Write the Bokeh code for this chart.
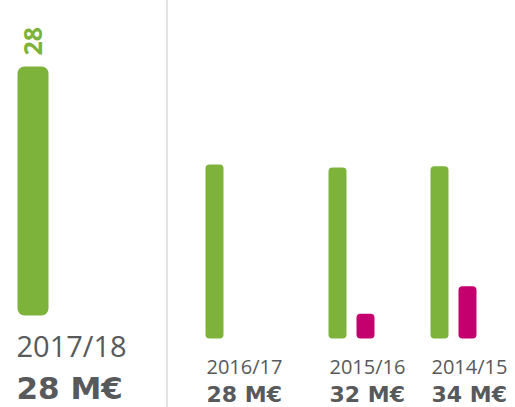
import math
from bokeh.plotting import figure
from bokeh.layouts import row
from bokeh.models import Range1d, Spacer, ColumnDataSource
from bokeh.core.properties import value
from bokeh.embed import file_html
from bokeh.resources import INLINE

# ---- data ----
years = ["2017/18", "2016/17", "2015/16", "2014/15"]
totals = ["28 M€", "28 M€", "32 M€", "34 M€"]
green_values = [28, 28, 27.5, 27.7]
magenta_values = [0, 0, 4, 8.4]

GREEN = "#7DB33A"
MAGENTA = "#C4006F"
GREY = "#58595B"
FONT_REG = "Open Sans"
FONT_BOLD = "DejaVu Sans"

H = 407


def base_fig(width, x_start, x_end, y_start, y_end):
    p = figure(width=width, height=H, output_backend="svg", toolbar_location=None,
               x_range=Range1d(x_start, x_end), y_range=Range1d(y_start, y_end),
               min_border=0, min_border_left=0, min_border_right=0,
               min_border_top=0, min_border_bottom=0)
    p.axis.visible = False
    p.grid.visible = False
    p.outline_line_color = None
    p.background_fill_color = None
    p.border_fill_color = None
    return p


# ---- big 2017/18 panel ----
big_px = 249 / green_values[0]        # pixels per unit
big_bottom = 92                        # px from bottom of figure
wA = 166
bar_left_off = 17
bar_w = 31
pA = base_fig(wA, -(bar_left_off + bar_w / 2), wA - (bar_left_off + bar_w / 2),
              -big_bottom / big_px, (H - big_bottom) / big_px)
srcA = ColumnDataSource(dict(x=[0], top=[green_values[0]], lab=[str(green_values[0])],
                             year=[years[0]], tot=[totals[0]]))
pA.vbar(x="x", top="top", bottom=0, width=bar_w, source=srcA, fill_color=GREEN,
        line_color=None, border_radius=7)
pA.text(x="x", y="top", text="lab", source=srcA, angle=math.pi / 2, y_offset=-11,
        text_align="left", text_baseline="middle", text_color=GREEN,
        text_font=value(FONT_REG), text_font_style="bold", text_font_size="25px")
pA.text(x="x", y=0, text="year", source=srcA, x_offset=-bar_w / 2 - 1, y_offset=30,
        text_align="left", text_baseline="alphabetic", text_color=GREY,
        text_font=value(FONT_REG), text_font_size="29px")
pA.text(x="x", y=0, text="tot", source=srcA, x_offset=-bar_w / 2 - 1, y_offset=72,
        text_align="left", text_baseline="alphabetic", text_color=GREY,
        text_font=value(FONT_BOLD), text_font_style="bold", text_font_size="31px")

divider = Spacer(width=2, height=H, styles={"background-color": "#E4E4E4"})

# ---- small panels ----
small_px = 174 / green_values[1]
small_bottom = 69
step = 28        # px between green and magenta bar centres
sbar_w = 18


def small_panel(i, width, left_off):
    start = -(left_off + sbar_w / 2) / step
    p = base_fig(width, start, start + width / step,
                 -small_bottom / small_px, (H - small_bottom) / small_px)
    src = ColumnDataSource(dict(x=[0], g=[green_values[i]], m=[magenta_values[i]],
                                year=[years[i]], tot=[totals[i]]))
    p.vbar(x="x", top="g", bottom=0, width=sbar_w / step, source=src,
           fill_color=GREEN, line_color=None, border_radius=4)
    if magenta_values[i] > 0:
        msrc = ColumnDataSource(dict(x=[1], m=[magenta_values[i]]))
        p.vbar(x="x", top="m", bottom=0, width=sbar_w / step, source=msrc,
               fill_color=MAGENTA, line_color=None, border_radius=4)
    p.text(x="x", y=0, text="year", source=src, x_offset=-sbar_w / 2 + 1, y_offset=28,
           text_align="left", text_baseline="alphabetic", text_color=GREY,
           text_font=value(FONT_REG), text_font_size="20px")
    p.text(x="x", y=0, text="tot", source=src, x_offset=-sbar_w / 2 + 1, y_offset=56,
           text_align="left", text_baseline="alphabetic", text_color=GREY,
           text_font=value(FONT_BOLD), text_font_style="bold", text_font_size="22px")
    return p


pB = small_panel(1, 150, 37)
pC = small_panel(2, 102, 10)
pD = small_panel(3, 95, 10)

layout = row(pA, divider, pB, pC, pD, spacing=0)
open("out.html", "w").write(file_html(layout, INLINE))
